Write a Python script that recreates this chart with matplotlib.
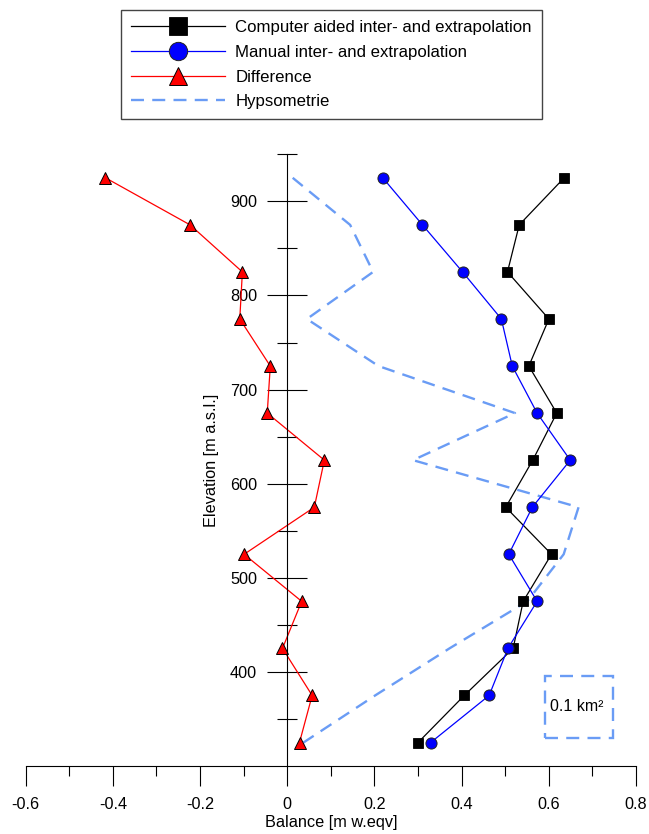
import matplotlib
matplotlib.use("Agg")
import matplotlib.pyplot as plt
from matplotlib.patches import Rectangle
from matplotlib.ticker import MultipleLocator, FixedLocator

plt.rcParams['font.family'] = ['Liberation Sans', 'DejaVu Sans']
plt.rcParams['axes.unicode_minus'] = False

# Mittlere Höhe der Höhenstufen (50 m Bänder)
elevation = [925, 875, 825, 775, 725, 675, 625, 575, 525, 475, 425, 375, 325]

# Massenbilanz je Höhenstufe [m w.eqv]
computer = [0.635, 0.532, 0.505, 0.600, 0.554, 0.618, 0.563, 0.501, 0.606, 0.541, 0.518, 0.406, 0.300]
manual = [0.219, 0.310, 0.402, 0.491, 0.516, 0.573, 0.649, 0.562, 0.508, 0.573, 0.506, 0.463, 0.329]
difference = [-0.417, -0.223, -0.103, -0.109, -0.039, -0.046, 0.085, 0.062, -0.099, 0.033, -0.011, 0.057, 0.028]

# Fläche je Höhenstufe [km2]
hypsometry = [0.008, 0.093, 0.127, 0.029, 0.135, 0.337, 0.186, 0.431, 0.409, 0.355, 0.240, 0.130, 0.024]

x_ticks = [-0.6, -0.4, -0.2, 0, 0.2, 0.4, 0.6, 0.8]
x_tick_labels = ['-0.6', '-0.4', '-0.2', '0', '0.2', '0.4', '0.6', '0.8']
y_ticks = [400, 500, 600, 700, 800, 900]

hyp_color = '#6a9cf5'

fig = plt.figure(figsize=(6.49, 8.34), dpi=100)
ax = fig.add_axes([0.0396, 0.0815, 0.9405, 0.7335])

# zweite x-Achse fuer die Hypsometrie (0 km2 liegt auf 0 m w.eqv)
ax2 = ax.twiny()
ax2.set_xlim(-0.6 / 1.55, 0.8 / 1.55)
ax2.set_ylim(300, 950)
ax2.axis('off')
hyp_line, = ax2.plot(hypsometry, elevation, color=hyp_color, lw=1.7, dashes=(5.5, 3.5))
ax2.add_patch(Rectangle((0.382, 330), 0.1, 66, fill=False, edgecolor=hyp_color, lw=1.7,
                        linestyle=(0, (5.5, 3.5))))
ax2.text(0.4285, 363, '0.1 km²', ha='center', va='center', fontsize=11.5)

ax.set_zorder(ax2.get_zorder() + 1)
ax.patch.set_visible(False)

l1, = ax.plot(computer, elevation, color='black', lw=0.9, marker='s', ms=7.6,
              mfc='black', mec='black', mew=0.6)
l2, = ax.plot(manual, elevation, color='blue', lw=0.9, marker='o', ms=8,
              mfc='blue', mec='#222222', mew=0.7)
l3, = ax.plot(difference, elevation, color='red', lw=0.9, marker='^', ms=8,
              mfc='red', mec='black', mew=0.7)

ax.set_xlim(-0.6, 0.8)
ax.set_ylim(300, 950)

for side in ['top', 'right']:
    ax.spines[side].set_visible(False)
ax.spines['left'].set_position(('data', 0))
ax.spines['left'].set_linewidth(0.8)
ax.spines['bottom'].set_linewidth(0.8)

ax.set_xticks(x_ticks)
ax.set_xticklabels(x_tick_labels)
ax.xaxis.set_minor_locator(MultipleLocator(0.1))
ax.set_yticks(y_ticks)
ax.yaxis.set_minor_locator(FixedLocator([350, 450, 550, 650, 750, 850, 950]))

ax.tick_params(axis='x', which='major', direction='out', length=14.5, width=0.8, pad=8, labelsize=11.7)
ax.tick_params(axis='x', which='minor', direction='out', length=7.2, width=0.8)
ax.tick_params(axis='y', which='major', direction='inout', length=28.8, width=0.8, pad=7.4, labelsize=11.7)
ax.tick_params(axis='y', which='minor', direction='inout', length=14.4, width=0.8)

ax.set_xlabel('Balance [m w.eqv]', fontsize=11.7, labelpad=2)
ax.set_ylabel('Elevation [m a.s.l.]', fontsize=11.7, labelpad=8)

leg = fig.legend([l1, l2, l3, hyp_line],
                 ['Computer aided inter- and extrapolation', 'Manual inter- and extrapolation',
                  'Difference', 'Hypsometrie'],
                 loc='upper left', bbox_to_anchor=(0.1864, 0.988), borderaxespad=0,
                 fontsize=12.1, markerscale=1.65, handlelength=5.6, handletextpad=0.6,
                 borderpad=0.6, labelspacing=0.58, fancybox=False, framealpha=1)
leg.get_frame().set_edgecolor('#444444')
leg.get_frame().set_linewidth(1.0)

fig.savefig('out.png', dpi=100)
